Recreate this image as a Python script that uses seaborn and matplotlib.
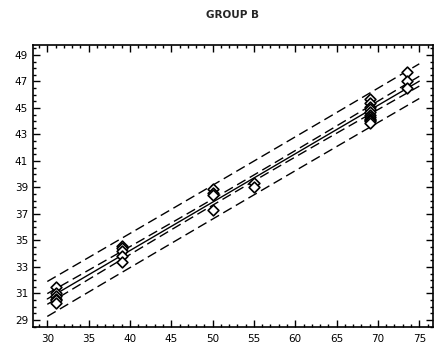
import numpy as np
import pandas as pd
import matplotlib
matplotlib.use("Agg")
import matplotlib.pyplot as plt
import seaborn as sns
from matplotlib.ticker import MultipleLocator

# ---- data ----
x_vals = [31, 31, 31, 31, 31, 31,
          39, 39, 39, 39, 39,
          50, 50, 50, 50,
          55, 55,
          69, 69, 69, 69, 69, 69, 69, 69, 69, 69, 69,
          73.5, 73.5, 73.5]
y_vals = [31.5, 31.0, 30.8, 30.6, 30.5, 30.3,
          34.6, 34.4, 34.2, 33.8, 33.4,
          38.9, 38.6, 38.4, 37.3,
          39.3, 39.0,
          45.7, 45.4, 45.1, 44.9, 44.7, 44.5, 44.3, 44.2, 44.1, 44.0, 43.9,
          47.7, 47.0, 46.5]
x_ticks = [30, 35, 40, 45, 50, 55, 60, 65, 70, 75]
y_ticks = [29, 31, 33, 35, 37, 39, 41, 43, 45, 47, 49]
title = "GROUP B"

df = pd.DataFrame({"x": x_vals, "y": y_vals})

# ---- OLS fit with confidence and prediction limits ----
x = np.asarray(x_vals, float)
y = np.asarray(y_vals, float)
n = len(x)
b1, b0 = np.polyfit(x, y, 1)
resid = y - (b0 + b1 * x)
s = np.sqrt(np.sum(resid ** 2) / (n - 2))
xm = x.mean()
sxx = np.sum((x - xm) ** 2)
t = 2.05
xg = np.linspace(30, 75, 100)
fit = b0 + b1 * xg
se_mean = s * np.sqrt(1 / n + (xg - xm) ** 2 / sxx)
se_pred = s * np.sqrt(1 + 1 / n + (xg - xm) ** 2 / sxx)
lines = pd.DataFrame({
    "x": np.tile(xg, 5),
    "y": np.concatenate([fit, fit - t * se_mean, fit + t * se_mean,
                         fit - t * se_pred, fit + t * se_pred]),
    "kind": np.repeat(["fit", "clm_lo", "clm_hi", "cli_lo", "cli_hi"], len(xg)),
})

sns.set_style("ticks")
plt.rcParams["font.family"] = ["DejaVu Sans"]

fig = plt.figure(figsize=(4.36, 3.46), dpi=100)
ax = fig.add_axes([33 / 436, 1 - 327 / 346, 400 / 436, 282 / 346])

dash = (7, 3.5)
sns.lineplot(data=lines, x="x", y="y", hue="kind", style="kind",
             palette={k: "black" for k in lines["kind"].unique()},
             dashes={"fit": "", "clm_lo": dash, "clm_hi": dash,
                     "cli_lo": dash, "cli_hi": dash},
             linewidth=1.0, legend=False, ax=ax, estimator=None, sort=False)

sns.scatterplot(data=df, x="x", y="y", marker="D", s=30,
                facecolor="white", edgecolor="black", linewidth=1.2,
                legend=False, ax=ax, zorder=3)

ax.set_xlim(28.27, 76.66)
ax.set_ylim(28.47, 49.75)
ax.set_xticks(x_ticks)
ax.set_yticks(y_ticks)
ax.xaxis.set_minor_locator(MultipleLocator(1))
ax.yaxis.set_minor_locator(MultipleLocator(0.5))
ax.tick_params(which="both", direction="in", top=True, right=True,
               labelsize=7.5, colors="black", width=1.0)
ax.tick_params(which="major", length=5)
ax.tick_params(which="minor", length=2.5)
ax.tick_params(axis="x", pad=5)
for sp in ax.spines.values():
    sp.set_linewidth(1.2)
    sp.set_color("black")
    sp.set_visible(True)
ax.set_xlabel("")
ax.set_ylabel("")
fig.text(233 / 436, 1 - 15 / 346, title, ha="center", va="center",
         fontsize=7.5, fontweight="bold")

fig.savefig("out.png", dpi=100)
